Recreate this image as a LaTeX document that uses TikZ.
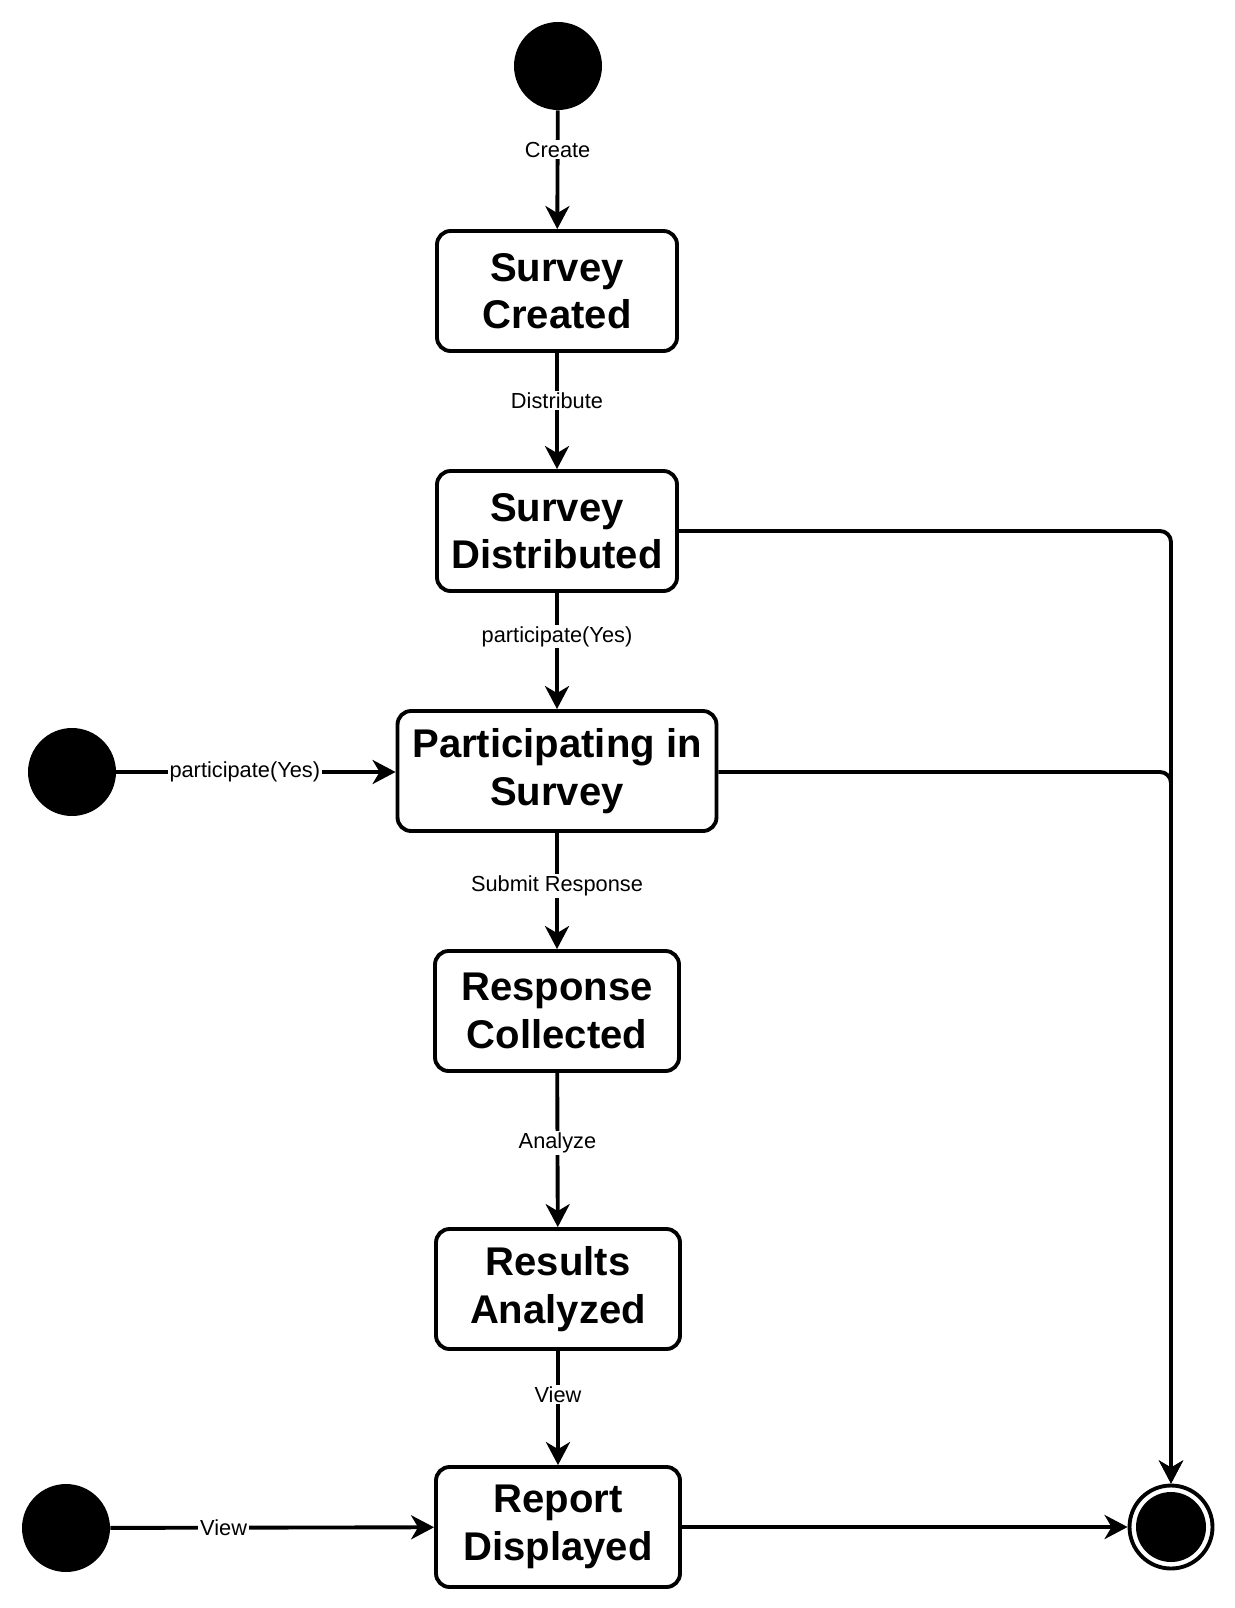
\documentclass[tikz,border=0pt]{standalone}
\usepackage{fontspec}
\setmainfont{Liberation Sans}
\usetikzlibrary{arrows.meta,positioning}

\begin{document}
\begin{tikzpicture}[x=0.02cm,y=-0.02cm,
      stbox/.style={draw,line width=2.2pt,rounded corners=0.27cm,fill=white,
                    minimum width=4.8cm,minimum height=2.4cm,align=center,
                    font=\fontsize{22.8}{27}\selectfont\bfseries,inner sep=2pt},
      start/.style={circle,fill=black,minimum size=1.76cm,inner sep=0pt},
      stop/.style={circle,draw,line width=2.2pt,fill=white,minimum size=1.66cm,inner sep=0pt},
      flow/.style={-{Stealth[length=4.6mm,width=4.8mm,inset=1.4mm]},line width=2.2pt},
      lab/.style={font=\fontsize{12.4}{14}\selectfont,fill=white,inner sep=1pt}]
    \useasboundingbox (0,0) rectangle (1234,1608);
    % states
    \node[start] (init)  at (558,66)   {};
    \node[stbox] (created)       at (557,291)  {Survey\\Created};
    \node[stbox] (distributed)   at (557,531)  {Survey\\Distributed};
    \node[stbox,minimum width=6.38cm] (participating) at (557,771) {Participating in\\Survey};
    \node[stbox,minimum width=4.88cm] (collected)     at (557,1011) {Response\\Collected};
    \node[stbox,minimum width=4.88cm] (analyzed)      at (558,1289) {Results\\Analyzed};
    \node[stbox,minimum width=4.88cm] (displayed)     at (558,1527) {Report\\Displayed};
    \node[start] (initB) at (72,772)   {};
    \node[start] (initC) at (66,1528)  {};
    \node[stop]  (final) at (1171,1527) {};
    \fill (final.center) circle (0.7cm);
    % transitions
    \draw[flow] (init)          -- node[lab,pos=0.33]  {Create} (created);
    \draw[flow] (created)       -- node[lab,pos=0.41]  {Distribute} (distributed);
    \draw[flow] (distributed)   -- node[lab,pos=0.375] {participate(Yes)} (participating);
    \draw[flow] (participating) -- node[lab,pos=0.46]  {Submit Response} (collected);
    \draw[flow] (collected)     -- node[lab,pos=0.456] {Analyze} (analyzed);
    \draw[flow] (analyzed)      -- node[lab,pos=0.38]  {View} (displayed);
    \draw[flow] (initB) -- node[lab,pos=0.46] {participate(Yes)} (participating.west |- initB);
    \draw[flow] (initC) -- node[lab,pos=0.35] {View} (displayed);
    \draw[flow] (displayed) -- (final);
    \draw[flow,rounded corners=0.22cm] (distributed.east) -| (final.north);
    \draw[flow,rounded corners=0.22cm] (participating.east |- initB) -| (final.north);
  \end{tikzpicture}
\end{document}
